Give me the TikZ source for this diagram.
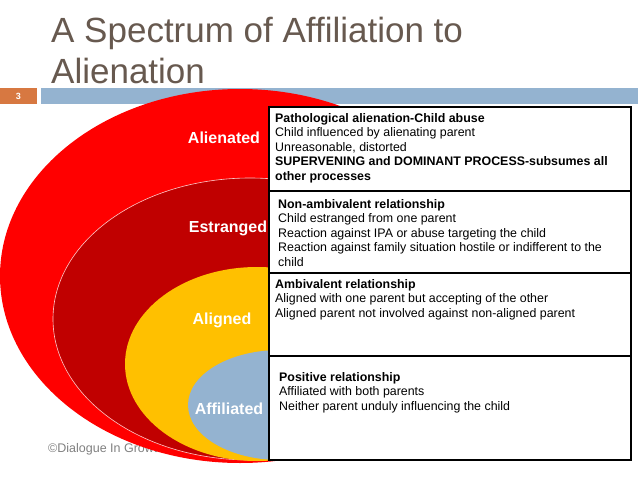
\documentclass[tikz,border=0pt]{standalone}
\usepackage{fontspec}
\setmainfont{Liberation Sans}
\usepackage{tikz}
\usetikzlibrary{positioning, calc}
\definecolor{alienred}{RGB}{255,0,0}
\definecolor{estrangedred}{RGB}{192,0,0}
\definecolor{alignedyellow}{RGB}{255,192,0}
\definecolor{slideblue}{RGB}{148,179,208}
\definecolor{numorange}{RGB}{215,120,65}
\definecolor{titlebrown}{RGB}{103,89,79}
\definecolor{footgray}{RGB}{128,128,128}
\definecolor{pinkline}{RGB}{255,200,200}
\tikzset{
  title/.style={anchor=base west, inner sep=0pt, text=titlebrown,
    font=\fontsize{35}{41}\selectfont},
  numbox/.style={rectangle, fill=numorange, text=white,
    minimum width=37pt, minimum height=16pt, inner sep=0pt,
    font=\fontsize{9}{10}\selectfont\bfseries},
  footer/.style={anchor=base west, inner sep=0pt, text=footgray,
    font=\fontsize{12.5}{14}\selectfont},
  box/.style={rectangle, draw=black, fill=white, line width=1.4pt,
    minimum width=362pt, outer sep=0pt, inner sep=0pt},
  desc/.style={anchor=north west, align=left, inner sep=0pt,
    font=\fontsize{12.4}{14.5}\selectfont},
  ring/.style={text=white, inner sep=0pt,
    font=\fontsize{16}{19}\selectfont\bfseries}
}

\begin{document}
\begin{tikzpicture}[x=1pt, y=-1pt]
  \useasboundingbox (0,0) rectangle (638,479);

  % Title
  \node[title] (title1) at (51,42) {A Spectrum of Affiliation to};
  \node[title] (title2) at (51,83) {Alienation};

  % Slide number and bar
  \node[numbox] (num) at (18.5,96) {3};
  \fill[slideblue] (41,88) rectangle (638,104);

  % Footer (partly hidden by the ellipses)
  \node[footer] (foot) at (48,452) {©Dialogue In Growth};

  % Nested ellipses, from outside in
  \fill[alienred] (240,276) ellipse [x radius=240, y radius=187];
  \filldraw[fill=estrangedred, draw=pinkline, line width=0.6pt] (250,319) ellipse [x radius=197, y radius=141];
  \fill[alignedyellow] (257,364) ellipse [x radius=132, y radius=97];
  \fill[slideblue] (280,405) ellipse [x radius=92, y radius=55];

  % Description boxes
  \node[box, anchor=north west, minimum height=84pt] (box1) at (269,107) {};
  \node[box, below=0pt of box1, minimum height=82pt] (box2) {};
  \node[box, below=0pt of box2, minimum height=83pt] (box3) {};
  \node[box, below=0pt of box3, minimum height=104pt] (box4) {};

  \node[desc] (text1) at ([shift={(6pt,-6pt)}]box1.north west)
    {\textbf{Pathological alienation-Child abuse}\\
     Child influenced by alienating parent\\
     Unreasonable, distorted\\
     \textbf{SUPERVENING and DOMINANT PROCESS-subsumes all}\\
     \textbf{other processes}};
  \node[desc] (text2) at ([shift={(9pt,-8pt)}]box2.north west)
    {\textbf{Non-ambivalent relationship}\\
     Child estranged from one parent\\
     Reaction against IPA or abuse targeting the child\\
     Reaction against family situation hostile or indifferent to the\\
     child};
  \node[desc] (text3) at ([shift={(6pt,-6pt)}]box3.north west)
    {\textbf{Ambivalent relationship}\\
     Aligned with one parent but accepting of the other\\
     Aligned parent not involved against non-aligned parent};
  \node[desc] (text4) at ([shift={(10pt,-16pt)}]box4.north west)
    {\textbf{Positive relationship}\\
     Affiliated with both parents\\
     Neither parent unduly influencing the child};

  % Labels on the ellipses
  \node[ring] (alienated) at (224,138) {Alienated};
  \node[ring] (estranged) at (228,228) {Estranged};
  \node[ring] (aligned) at (222,320) {Aligned};
  \node[ring] (affiliated) at (229,409) {Affiliated};
\end{tikzpicture}
\end{document}
